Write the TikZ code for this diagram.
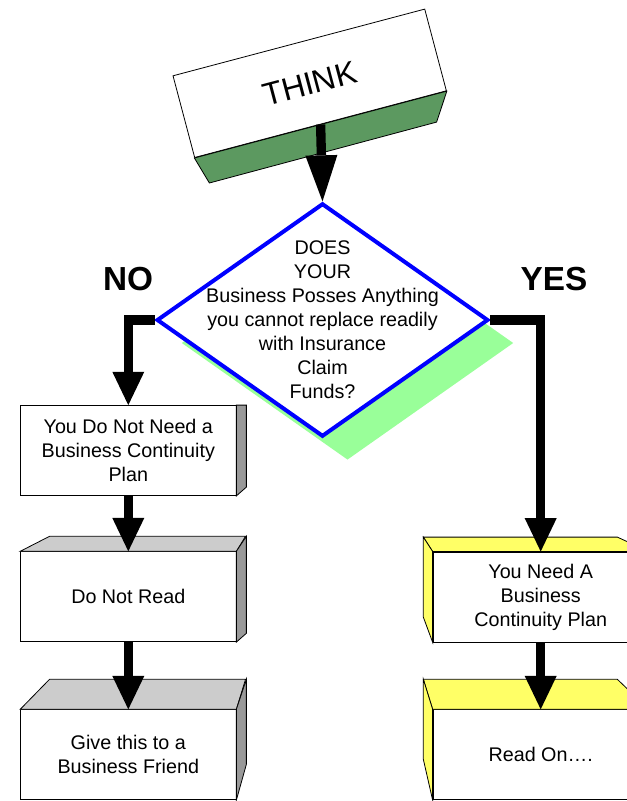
\documentclass[tikz,border=0pt]{standalone}
\usepackage{fontspec}
\setmainfont{Liberation Sans}
\usepackage{xcolor}
\usepackage{tikz}
\usetikzlibrary{arrows.meta,shapes,positioning,calc}

\definecolor{thinkgreen}{RGB}{92,153,96}
\definecolor{shadowgreen}{RGB}{153,255,153}
\definecolor{boxyellow}{RGB}{255,255,102}
\definecolor{topgray}{RGB}{204,204,204}
\definecolor{sidegray}{RGB}{153,153,153}

\tikzset{
	face/.style={draw, line width=0.6pt, fill=white, minimum width=161.5pt, minimum height=67.5pt, inner sep=0pt, align=center, font=\fontsize{14.8}{18}\selectfont},
	flow/.style={line width=7pt, -{Triangle[width=24pt,length=25pt,line width=0pt]}},
}

\begin{document}
\begin{tikzpicture}[x=0.75pt,y=-0.75pt]
				\useasboundingbox (0,0) rectangle (627,801);
				\clip (0,0) rectangle (627,801);
				
				\node [draw, line width=0.6pt, fill=white, rotate=14.84, minimum width=195.3pt, minimum height=63.4pt, font=\fontsize{24}{28}\selectfont] (think) at (309.7,83.3) {THINK};
				\draw [line width=0.6pt, fill=thinkgreen] (think.south west) -- (think.south east) -- ++(-10.3,31) -- ($(think.south west)+(15,25)$) -- cycle;
				
				\node [diamond, fill=shadowgreen, minimum width=248.7pt, minimum height=175pt, inner sep=0pt] (askshadow) at (347.5,343) {};
				\node [diamond, draw=blue, line width=3pt, fill=white, minimum width=248.7pt, minimum height=175pt, inner sep=0pt] (ask) at (322.5,320) {};
				\node [align=center, font=\fontsize{14.8}{18}\selectfont] (asktext) at (ask) {DOES\\YOUR\\Business Posses Anything\\you cannot replace readily\\with Insurance\\Claim\\Funds?};
				
				\node [font=\bfseries\fontsize{25}{30}\selectfont] (no) at (128,279.5) {NO};
				\node [font=\bfseries\fontsize{25}{30}\selectfont] (yes) at (554,279.5) {YES};
				
				% left column
				\node [face] (plan) at (128.3,450.5) {You Do Not Need a\\Business Continuity\\Plan};
				\draw [line width=0.6pt, fill=sidegray] (plan.north east) -- ++(10,0) -- ++(0,82) -- (plan.south east) -- cycle;
				
				\node [face] (noread) at (128.3,596.7) {Do Not Read};
				\draw [line width=0.6pt, fill=topgray] (noread.north west) -- ++(29.3,-15) -- ++(196,0) -- (noread.north east) -- cycle;
				\draw [line width=0.6pt, fill=sidegray] (noread.north east) -- ++(10,-15) -- ++(0,97) -- (noread.south east) -- cycle;
				
				\node [face] (friend) at (128.3,754.7) {Give this to a\\Business Friend};
				\draw [line width=0.6pt, fill=topgray] (friend.north west) -- ++(29.3,-30) -- ++(196,0) -- (friend.north east) -- cycle;
				\draw [line width=0.6pt, fill=sidegray] (friend.north east) -- ++(10,-30) -- ++(0,85) -- (friend.south east) -- cycle;
				
				% right column
				\node [face] (needplan) at (540.7,596.9) {You Need A\\Business\\Continuity Plan};
				\draw [line width=0.6pt, fill=boxyellow] (needplan.north west) -- ++(-9.3,-14.4) -- ++(194,0) -- (needplan.north east) -- cycle;
				\draw [line width=0.6pt, fill=boxyellow] (needplan.north west) -- ++(-9.3,-14.4) -- ++(0,80) -- (needplan.south west) -- cycle;
				
				\node [face] (readon) at (540.7,754.7) {Read On….};
				\draw [line width=0.6pt, fill=boxyellow] (readon.north west) -- ++(-9.3,-30) -- ++(194,0) -- (readon.north east) -- cycle;
				\draw [line width=0.6pt, fill=boxyellow] (readon.north west) -- ++(-9.3,-30) -- ++(0,80) -- (readon.south west) -- cycle;
				
				% arrows
				\draw [line width=7pt, -{Triangle[width=24pt,length=34.5pt,line width=0pt]}] (think.south) -- (ask.north);
				\draw [flow] (ask.west) -| (plan.north);
				\draw [flow] (ask.east) -| (needplan.north);
				\draw [flow] (plan.south) -- (noread.north);
				\draw [flow] (noread.south) -- (friend.north);
				\draw [flow] (needplan.south) -- (readon.north);
\end{tikzpicture}
\end{document}
